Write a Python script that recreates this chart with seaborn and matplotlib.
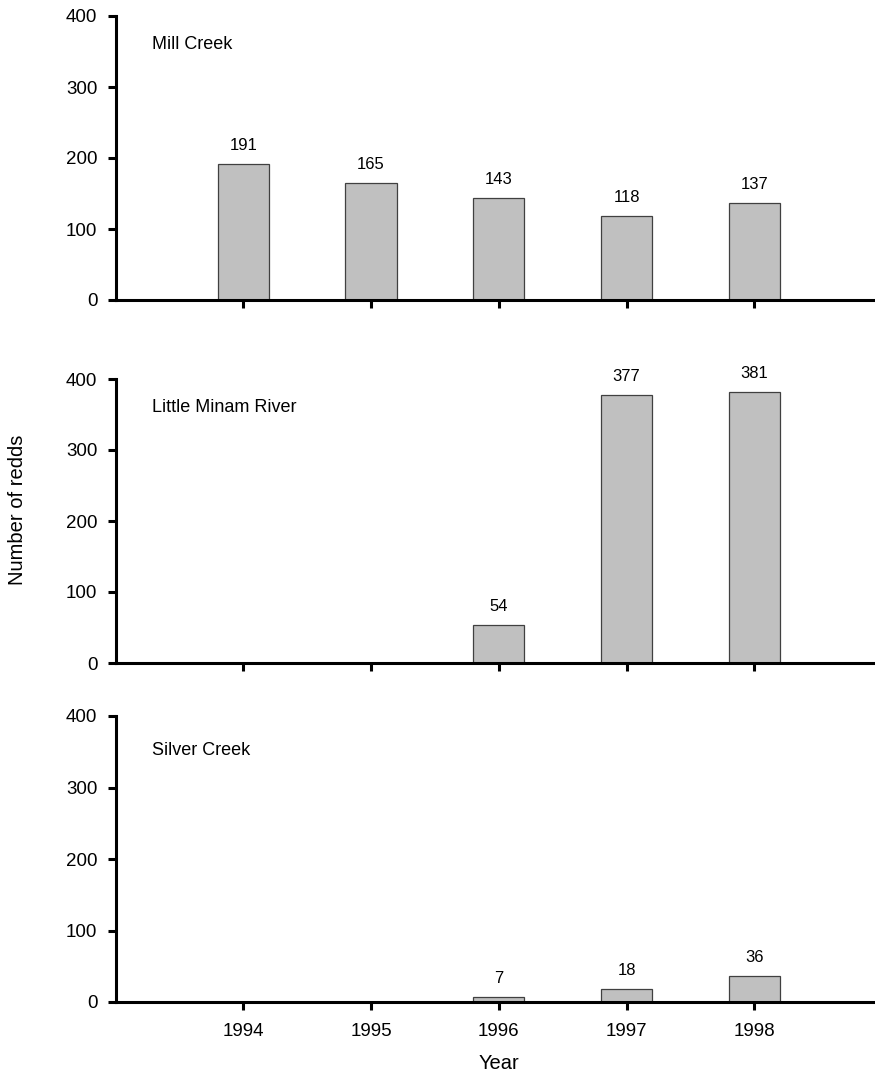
import matplotlib
matplotlib.use("Agg")
import matplotlib.pyplot as plt
import seaborn as sns
import pandas as pd

sns.set_theme(style="ticks")
plt.rcParams['font.family'] = ['Liberation Sans', 'DejaVu Sans']
plt.rcParams['text.color'] = 'black'
plt.rcParams['axes.labelcolor'] = 'black'
plt.rcParams['xtick.color'] = 'black'
plt.rcParams['ytick.color'] = 'black'

streams = ["Mill Creek", "Little Minam River", "Silver Creek"]
mill_years = [1994, 1995, 1996, 1997, 1998]
mill_redds = [191, 165, 143, 118, 137]
minam_years = [1996, 1997, 1998]
minam_redds = [54, 377, 381]
silver_years = [1996, 1997, 1998]
silver_redds = [7, 18, 36]
year_ticks = [1994, 1995, 1996, 1997, 1998]
y_ticks = [0, 100, 200, 300, 400]

data = [(mill_years, mill_redds), (minam_years, minam_redds), (silver_years, silver_redds)]

fig = plt.figure(figsize=(8.75, 10.8), dpi=100)
left = 115.5 / 875
width = 766.5 / 875
panels = [(16, 300), (379, 663), (716, 1002)]
title_y = [0.898, 0.90, 0.88]

for i, ((yrs, vals), name, (top, bot)) in enumerate(zip(data, streams, panels)):
    ax = fig.add_axes([left, 1 - bot / 1080, width, (bot - top) / 1080])
    df = pd.DataFrame({"year": yrs, "redds": vals})
    sns.barplot(data=df, x="year", y="redds", native_scale=True, width=0.4,
                color="#c0c0c0", edgecolor="#404040", linewidth=0.9,
                saturation=1, ax=ax)
    ax.set_xlim(1993, 1999)
    ax.set_ylim(0, 400)
    ax.set_xticks(year_ticks)
    ax.set_yticks(y_ticks)
    ax.set_yticklabels([str(t) for t in y_ticks], fontsize=13.5)
    if i == 2:
        ax.set_xticklabels([str(t) for t in year_ticks], fontsize=13.5)
        ax.set_xlabel("Year", fontsize=14.5, labelpad=10)
    else:
        ax.set_xticklabels([])
        ax.set_xlabel("")
    ax.set_ylabel("")
    for s in ["top", "right"]:
        ax.spines[s].set_visible(False)
    for s in ["left", "bottom"]:
        ax.spines[s].set_linewidth(2.2)
        ax.spines[s].set_color("black")
    ax.spines["bottom"].set_clip_on(False)
    ax.tick_params(axis="both", direction="out", length=6, width=2.2, color="black")
    ax.tick_params(axis="y", pad=7)
    ax.tick_params(axis="x", pad=9)
    for x, v in zip(yrs, vals):
        ax.annotate(str(v), (x, v), xytext=(0, 8), textcoords="offset points",
                    ha="center", va="bottom", fontsize=12)
    ax.text(0.048, title_y[i], name, transform=ax.transAxes, ha="left",
            va="center", fontsize=13)

fig.text(18 / 875, 1 - 510 / 1080, "Number of redds", rotation=90,
         ha="center", va="center", fontsize=14.5)

fig.savefig("out.png", dpi=100)
